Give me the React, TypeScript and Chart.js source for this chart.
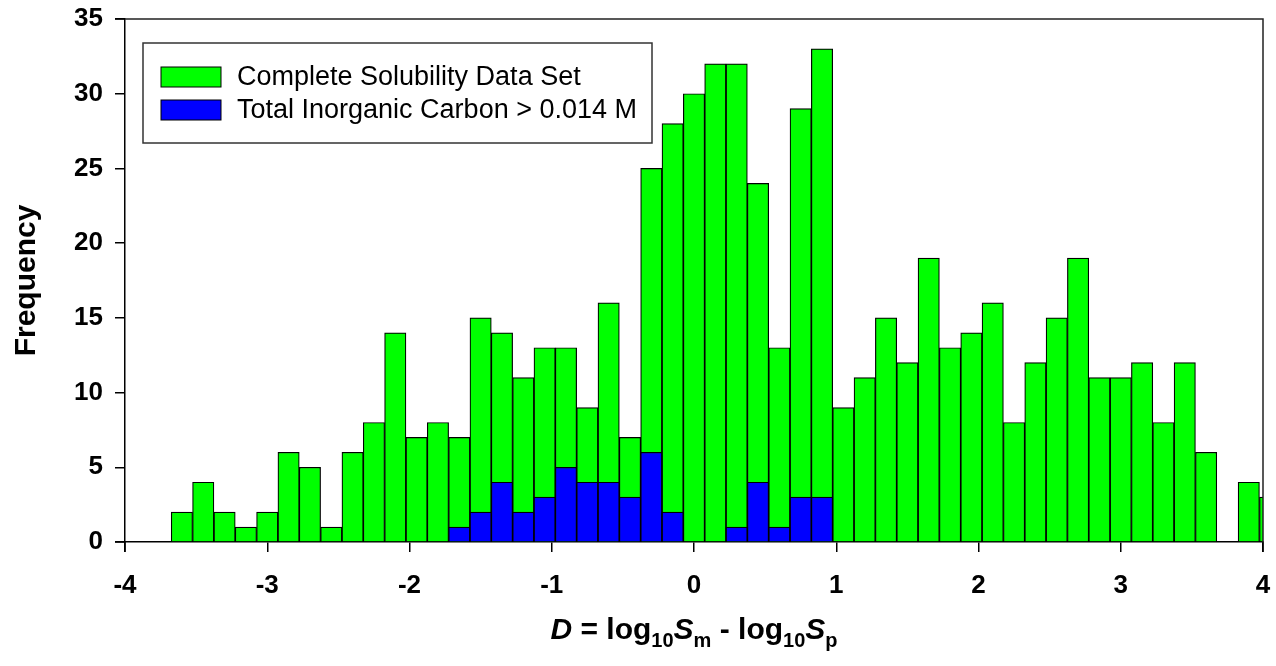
import React, { useEffect, useRef } from 'react';
import { Chart, registerables } from 'chart.js';

Chart.register(...registerables);

// Bin centres of the histogram (bin width 0.15)
const BIN_CENTERS = [
  -3.6, -3.45, -3.3, -3.15, -3.0, -2.85, -2.7, -2.55, -2.4, -2.25,
  -2.1, -1.95, -1.8, -1.65, -1.5, -1.35, -1.2, -1.05, -0.9, -0.75,
  -0.6, -0.45, -0.3, -0.15, 0.0, 0.15, 0.3, 0.45, 0.6, 0.75,
  0.9, 1.05, 1.2, 1.35, 1.5, 1.65, 1.8, 1.95, 2.1, 2.25,
  2.4, 2.55, 2.7, 2.85, 3.0, 3.15, 3.3, 3.45, 3.6, 3.75,
  3.9, 4.05,
];

// Frequencies: complete solubility data set
const COMPLETE_COUNTS = [
  2, 4, 2, 1, 2, 6, 5, 1, 6, 8,
  14, 7, 8, 7, 15, 14, 11, 13, 13, 9,
  16, 7, 25, 28, 30, 32, 32, 24, 13, 29,
  33, 9, 11, 15, 12, 19, 13, 14, 16, 8,
  12, 15, 19, 11, 11, 12, 8, 12, 6, 0,
  4, 3,
];

// Frequencies: total inorganic carbon > 0.014 M
const TIC_COUNTS = [
  0, 0, 0, 0, 0, 0, 0, 0, 0, 0,
  0, 0, 0, 1, 2, 4, 2, 3, 5, 4,
  4, 3, 6, 2, 0, 0, 1, 4, 1, 3,
  3, 0, 0, 0, 0, 0, 0, 0, 0, 0,
  0, 0, 0, 0, 0, 0, 0, 0, 0, 0,
  0, 0,
];

const X_TICKS = [-4, -3, -2, -1, 0, 1, 2, 3, 4];
const Y_TICKS = [0, 5, 10, 15, 20, 25, 30, 35];

const SERIES_LABELS = ['Complete Solubility Data Set', 'Total Inorganic Carbon > 0.014 M'];
const SERIES_COLORS = ['#00ff00', '#0000ff'];

const FAMILY = '"Liberation Sans", Arial, Helvetica, sans-serif';

const frameAndLegendPlugin = {
  id: 'frameAndLegend',
  afterDatasetsDraw(chart: any) {
    const { ctx, chartArea } = chart;
    ctx.save();
    // top and right frame
    ctx.strokeStyle = '#222';
    ctx.lineWidth = 1.5;
    ctx.beginPath();
    ctx.moveTo(chartArea.left, chartArea.top);
    ctx.lineTo(chartArea.right, chartArea.top);
    ctx.lineTo(chartArea.right, chartArea.bottom);
    ctx.stroke();
    // edge tick marks (hidden by Chart.js under the border)
    const xs = chart.scales.x;
    ctx.strokeStyle = '#000';
    ctx.beginPath();
    [X_TICKS[0], X_TICKS[X_TICKS.length - 1]].forEach((v) => {
      const px = xs.getPixelForValue(v);
      ctx.moveTo(px, chartArea.bottom);
      ctx.lineTo(px, chartArea.bottom + 10);
    });
    const ys = chart.scales.y;
    [Y_TICKS[0], Y_TICKS[Y_TICKS.length - 1]].forEach((v) => {
      const py = ys.getPixelForValue(v);
      ctx.moveTo(chartArea.left, py);
      ctx.lineTo(chartArea.left - 10, py);
    });
    ctx.stroke();
    ctx.restore();
  },
  afterDraw(chart: any) {
    const { ctx, chartArea } = chart;
    ctx.save();
    // legend box
    const bx = 143, by = 43, bw = 509, bh = 100;
    ctx.fillStyle = '#fff';
    ctx.fillRect(bx, by, bw, bh);
    ctx.strokeStyle = '#333';
    ctx.lineWidth = 1.5;
    ctx.strokeRect(bx, by, bw, bh);
    const ds = chart.data.datasets;
    const rows = [77, 110];
    ds.forEach((d: any, i: number) => {
      const cy = rows[i];
      ctx.fillStyle = d.backgroundColor;
      ctx.fillRect(161, cy - 10, 60, 20);
      ctx.strokeStyle = '#000';
      ctx.lineWidth = 1;
      ctx.strokeRect(161, cy - 10, 60, 20);
      ctx.fillStyle = '#000';
      ctx.font = `27px ${FAMILY}`;
      ctx.textBaseline = 'middle';
      ctx.textAlign = 'left';
      ctx.fillText(d.label, 237, cy + 1);
    });

    // x-axis title with italic and subscripts
    const parts = [
      { t: 'D', italic: true, sub: false },
      { t: ' = log', italic: false, sub: false },
      { t: '10', italic: false, sub: true },
      { t: 'S', italic: true, sub: false },
      { t: 'm', italic: false, sub: true },
      { t: ' - log', italic: false, sub: false },
      { t: '10', italic: false, sub: true },
      { t: 'S', italic: true, sub: false },
      { t: 'p', italic: false, sub: true },
    ];
    const fontFor = (p: any) => `${p.italic ? 'italic ' : ''}bold ${p.sub ? 20 : 30}px ${FAMILY}`;
    let total = 0;
    parts.forEach((p) => {
      ctx.font = fontFor(p);
      total += ctx.measureText(p.t).width;
    });
    let x = (chartArea.left + chartArea.right) / 2 - total / 2;
    const base = 639;
    ctx.textBaseline = 'alphabetic';
    ctx.textAlign = 'left';
    ctx.fillStyle = '#000';
    parts.forEach((p) => {
      ctx.font = fontFor(p);
      ctx.fillText(p.t, x, p.sub ? base + 8 : base);
      x += ctx.measureText(p.t).width;
    });
    ctx.restore();
  },
};

export default function App() {
  const canvasRef = useRef<HTMLCanvasElement | null>(null);

  useEffect(() => {
    if (!canvasRef.current) return;
    const complete = BIN_CENTERS.map((x, i) => ({ x, y: COMPLETE_COUNTS[i] }));
    const tic = BIN_CENTERS.map((x, i) => ({ x, y: TIC_COUNTS[i] === 0 ? null : TIC_COUNTS[i] }));
    const chart = new Chart(canvasRef.current, {
      type: 'bar',
      data: {
        datasets: [
          {
            label: SERIES_LABELS[0],
            data: complete as any,
            backgroundColor: SERIES_COLORS[0],
            borderColor: '#000',
            borderWidth: 1.2,
            order: 1,
          },
          {
            label: SERIES_LABELS[1],
            data: tic as any,
            backgroundColor: SERIES_COLORS[1],
            borderColor: '#000',
            borderWidth: 1.2,
            order: 0,
          },
        ],
      },
      options: {
        responsive: false,
        animation: false,
        devicePixelRatio: 1,
        layout: { padding: { left: 0, top: 19, right: 13, bottom: 0 } },
        datasets: {
          bar: {
            grouped: false,
            barPercentage: 1,
            categoryPercentage: 1,
            clip: 0 as any,
          },
        },
        plugins: {
          legend: { display: false },
          tooltip: { enabled: false },
          title: { display: false },
        },
        scales: {
          x: {
            type: 'linear',
            min: -4,
            max: 4,
            offset: false,
            afterFit: (s: any) => {
              s.height = 124;
              s.paddingLeft = 0;
              s.paddingRight = 0;
            },
            afterBuildTicks: (s: any) => {
              s.ticks = X_TICKS.map((v) => ({ value: v }));
            },
            ticks: {
              color: '#000',
              font: { family: FAMILY, size: 26, weight: 'bold' },
              padding: 18,
              maxRotation: 0,
              autoSkip: false,
            },
            grid: {
              display: true,
              offset: false,
              drawOnChartArea: false,
              drawTicks: true,
              tickLength: 10,
              color: '#000',
              lineWidth: 1.5,
            },
            border: { display: true, color: '#000', width: 1.5 },
          },
          y: {
            type: 'linear',
            min: 0,
            max: 35,
            afterFit: (s: any) => {
              s.width = 125;
              s.paddingTop = 0;
              s.paddingBottom = 0;
            },
            afterBuildTicks: (s: any) => {
              s.ticks = Y_TICKS.map((v) => ({ value: v }));
            },
            ticks: {
              color: '#000',
              font: { family: FAMILY, size: 26, weight: 'bold' },
              padding: 12,
            },
            grid: {
              display: true,
              offset: false,
              drawOnChartArea: false,
              drawTicks: true,
              tickLength: 10,
              color: '#000',
              lineWidth: 1.5,
            },
            border: { display: true, color: '#000', width: 1.5 },
            title: {
              display: true,
              text: 'Frequency',
              color: '#000',
              font: { family: FAMILY, size: 30, weight: 'bold' },
              padding: { top: 9, bottom: 0 },
            },
          },
        },
      },
      plugins: [frameAndLegendPlugin],
    });
    return () => chart.destroy();
  }, []);

  return (
    <div style={{ position: 'absolute', left: 0, top: 0, width: 1276, height: 666, background: '#fff' }}>
      <canvas ref={canvasRef} width={1276} height={666} style={{ display: 'block' }} />
    </div>
  );
}
